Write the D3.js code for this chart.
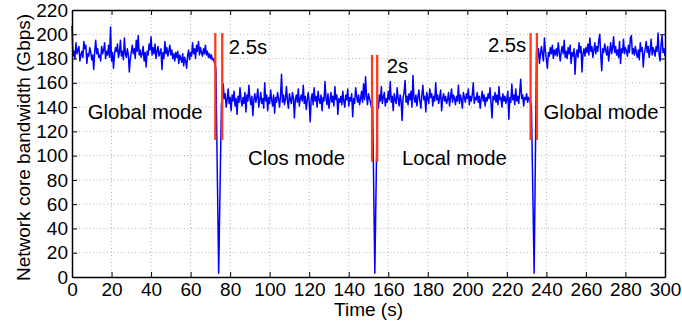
<!DOCTYPE html>
<html>
<head>
<meta charset="utf-8">
<script src="https://cdn.jsdelivr.net/npm/d3@7"></script>
<style>
  html, body { margin: 0; padding: 0; background: #fff; }
  svg { display: block; font-family: "Liberation Sans", Arial, sans-serif; }
</style>
</head>
<body>
<div id="chart"></div>
<script>
// samples every 0.5 s
const step = 0.5;

// Global mode, t = 0 .. 72
const globalStart = [
  207,182,186,180,193,184,187,190,178,183,
  186,181,194,188,191,176,184,182,189,185,
  179,183,171,186,195,184,188,181,183,178,
  190,184,187,193,180,186,183,191,181,206,
  178,185,172,183,189,186,192,181,185,195,
  182,186,179,197,184,181,188,183,169,180,
  185,191,184,188,180,195,186,199,183,187,
  181,184,190,178,185,173,186,183,192,187,
  198,183,189,184,192,180,186,190,182,185,
  188,171,185,180,194,184,189,182,186,191,
  183,187,180,184,178,185,181,186,176,183,
  180,177,184,174,181,178,172,183,187,179,
  185,182,193,184,188,180,191,186,194,183,
  189,185,182,188,184,191,183,186,181,184,
  180,183,179,180,177
];

// Clos mode, t = 76 .. 151.5
const closMode = [
  142,159,147,151,140,146,155,143,148,137,
  150,145,153,141,147,134,149,144,156,146,
  141,148,143,152,136,150,145,158,147,142,
  149,133,146,151,144,148,155,140,146,152,
  143,147,139,160,145,150,137,148,143,154,
  146,141,150,135,148,144,152,147,140,149,
  167,144,150,142,147,157,145,139,151,146,
  143,152,148,131,146,150,144,155,141,147,
  150,145,158,143,149,138,146,152,144,128,
  147,151,142,156,145,149,140,153,146,143,
  150,137,148,145,161,147,142,151,139,146,
  152,144,149,141,157,146,150,134,147,144,
  149,142,153,145,140,150,146,155,141,148,
  145,151,132,147,143,156,149,144,150,142,
  147,153,144,159,146,165,149,142,151,147,
  144,140
];

// Local mode, t = 155 .. 232
const localMode = [
  139,150,145,157,143,148,152,141,147,144,
  153,146,161,144,149,137,151,146,143,156,
  147,141,150,145,129,148,152,162,144,149,
  142,151,146,153,140,166,147,144,150,141,
  148,154,145,139,150,158,146,149,136,152,
  147,143,155,148,151,141,149,145,160,146,
  150,143,148,154,137,147,151,145,149,143,
  146,152,141,148,155,144,150,147,142,149,
  145,158,143,150,146,139,152,148,144,151,
  147,155,142,149,145,150,160,143,148,146,
  152,144,149,139,147,153,145,150,141,148,
  145,151,147,156,143,131,149,146,152,144,
  150,142,157,146,148,140,151,145,149,143,
  147,153,130,148,144,159,146,150,142,155,
  145,149,143,152,163,147,150,141,148,146,
  151,144,148,146,143
];

// Global mode again, t = 235.5 .. 300
const globalEnd = [
  181,188,176,184,190,183,178,197,186,
  179,172,185,182,189,184,191,180,187,183,
  188,182,193,185,178,186,190,184,195,181,
  186,180,189,184,191,176,185,182,188,167,
  183,187,181,193,185,190,169,184,188,182,
  189,185,192,183,197,186,190,181,187,193,
  184,190,186,195,200,183,170,188,185,192,
  187,183,190,178,186,193,184,189,198,185,
  190,183,187,181,194,176,188,185,196,184,
  189,186,182,191,185,197,199,184,188,183,
  190,185,181,187,179,193,186,189,173,184,
  188,194,185,190,181,187,196,183,189,186,
  182,190,186,201,184,178,191,199,185,188,
  182
];
const segmentStarts = [0, 76, 155, 235.5];

// reconfiguration dips
const dipTimes = [72.8, 74.2, 75.6, 152.1, 153.2, 154.4, 232.4, 233.8, 235];
const dipValues = [172, 3, 143, 140, 3, 138, 143, 3, 186];

// red markers: time, bottom, top
const markerTimes = [72.5, 76, 151.8, 154.4, 232, 235.2];
const markerLow = [113, 113, 95, 95, 113, 113];
const markerHigh = [201, 201, 183, 183, 201, 201];

const xTicks = d3.range(0, 301, 20);
const yTicks = d3.range(0, 221, 20);

const notes = [
  { text: "Global mode", t: 37, v: 130 },
  { text: "2.5s", t: 89, v: 184 },
  { text: "Clos mode", t: 113.6, v: 92 },
  { text: "2s", t: 164.6, v: 168.5 },
  { text: "Local mode", t: 193.5, v: 92 },
  { text: "2.5s", t: 220.1, v: 185.5 },
  { text: "Global mode", t: 267.6, v: 130 }
];

const width = 682;
const height = 323;
const margin = {top: 10, right: 17, bottom: 46, left: 72};

const x = d3.scaleLinear().domain([0, 300]).range([margin.left, width - margin.right]);
const y = d3.scaleLinear().domain([0, 220]).range([height - margin.bottom, margin.top]);

// build the series
let series = [];
[globalStart, closMode, localMode, globalEnd].forEach((vals, k) => {
  vals.forEach((v, i) => series.push({t: segmentStarts[k] + i * step, v: v}));
});
dipTimes.forEach((t, i) => series.push({t: t, v: dipValues[i]}));
series.sort((a, b) => a.t - b.t);

const svg = d3.select("#chart").append("svg")
              .attr("width", width)
              .attr("height", height);

// grid
const grid = svg.append("g")
                .attr("stroke", "#b4b4b4")
                .attr("stroke-width", 1)
                .attr("stroke-dasharray", "1,2.5");
grid.selectAll(".gx").data(xTicks.slice(1, -1)).join("line")
    .attr("x1", d => x(d)).attr("x2", d => x(d))
    .attr("y1", y(0)).attr("y2", y(220));
grid.selectAll(".gy").data(yTicks.slice(1, -1)).join("line")
    .attr("x1", x(0)).attr("x2", x(300))
    .attr("y1", d => y(d)).attr("y2", d => y(d));

// bandwidth line
const line = d3.line().x(d => x(d.t)).y(d => y(d.v));
svg.append("path")
   .datum(series)
   .attr("fill", "none")
   .attr("stroke", "#0000ff")
   .attr("stroke-width", 1.5)
   .attr("stroke-linejoin", "round")
   .attr("d", line);

// red transition markers
svg.append("g").selectAll("line").data(markerTimes).join("line")
   .attr("x1", d => x(d)).attr("x2", d => x(d))
   .attr("y1", (d, i) => y(markerLow[i]))
   .attr("y2", (d, i) => y(markerHigh[i]))
   .attr("stroke", "#ff3a1c")
   .attr("stroke-width", 2.3);

// annotations
svg.append("g").selectAll("text").data(notes).join("text")
   .attr("x", d => x(d.t))
   .attr("y", d => y(d.v))
   .attr("text-anchor", "middle")
   .attr("font-size", 20.3)
   .attr("fill", "#000")
   .text(d => d.text);

// axes, ticks pointing inward
const fontSize = 19;
const gx = svg.append("g")
              .attr("transform", `translate(0,${y(0)})`)
              .call(d3.axisBottom(x).tickValues(xTicks).tickSize(-5).tickSizeOuter(0).tickPadding(6));
const gy = svg.append("g")
              .attr("transform", `translate(${x(0)},0)`)
              .call(d3.axisLeft(y).tickValues(yTicks).tickSize(-5).tickSizeOuter(0).tickPadding(4));
svg.append("g")
   .attr("transform", `translate(0,${y(220)})`)
   .call(d3.axisTop(x).tickValues(xTicks).tickSize(-5).tickSizeOuter(0).tickFormat(""));
svg.append("g")
   .attr("transform", `translate(${x(300)},0)`)
   .call(d3.axisRight(y).tickValues(yTicks).tickSize(-5).tickSizeOuter(0).tickFormat(""));

svg.selectAll(".domain").attr("stroke", "#000").attr("stroke-width", 1.5);
svg.selectAll(".tick line").attr("stroke", "#000").attr("stroke-width", 1);
svg.selectAll(".tick text")
   .attr("font-size", fontSize)
   .attr("font-family", "Liberation Sans, Arial, sans-serif")
   .attr("fill", "#000");

// axis titles
svg.append("text")
   .attr("x", x(150))
   .attr("y", 316)
   .attr("text-anchor", "middle")
   .attr("font-size", fontSize)
   .text("Time (s)");
svg.append("text")
   .attr("transform", `translate(30,${(y(0) + y(220)) / 2 + 4}) rotate(-90)`)
   .attr("text-anchor", "middle")
   .attr("font-size", fontSize)
   .text("Network core bandwidth (Gbps)");
</script>
</body>
</html>
